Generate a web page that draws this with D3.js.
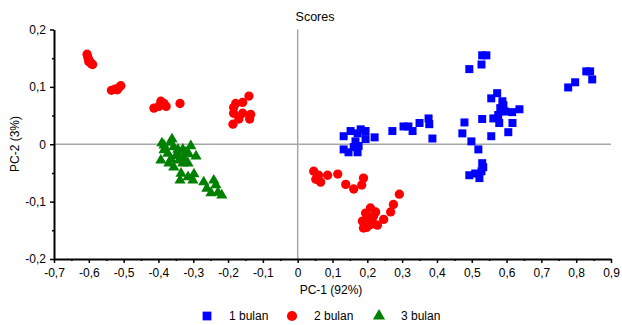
<!DOCTYPE html>
<html>
<head>
<meta charset="UTF-8">
<title>Scores</title>
<style>
  * { margin: 0; padding: 0; }
  body { background: #fff; font-family: "Liberation Sans", Arial, sans-serif; }
  svg text { font-family: "Liberation Sans", Arial, sans-serif; fill: #000; }
</style>
</head>
<body>
<svg id="chart" width="622" height="325"></svg>
<script src="https://cdn.jsdelivr.net/npm/d3@7"></script>
<script>
// PC-1, PC-2 scores per group
const bulan1 = [
  [0.132, 0.014], [0.152, 0.023], [0.172, 0.019], [0.181, 0.026], [0.195, 0.023],
  [0.166, 0.005], [0.195, 0.009], [0.221, 0.012], [0.132, -0.009], [0.146, -0.014],
  [0.172, -0.014], [0.161, -0.005], [0.175, -0.003], [0.272, 0.023], [0.304, 0.031],
  [0.318, 0.031], [0.330, 0.023], [0.350, 0.037], [0.376, 0.045], [0.378, 0.035],
  [0.387, 0.010], [0.530, 0.155], [0.542, 0.155], [0.528, 0.139], [0.493, 0.131],
  [0.777, 0.099], [0.797, 0.108], [0.829, 0.127], [0.840, 0.127], [0.846, 0.113],
  [0.573, 0.089], [0.556, 0.080], [0.588, 0.075], [0.591, 0.068], [0.582, 0.063],
  [0.596, 0.057], [0.616, 0.056], [0.637, 0.061], [0.576, 0.051], [0.562, 0.045],
  [0.579, 0.037], [0.617, 0.037], [0.605, 0.021], [0.530, 0.044], [0.479, 0.038],
  [0.473, 0.019], [0.556, 0.014], [0.499, 0.005], [0.519, -0.009], [0.530, -0.033],
  [0.533, -0.040], [0.528, -0.047], [0.510, -0.051], [0.493, -0.054], [0.522, -0.059]
];
const bulan2 = [
  [-0.605, 0.157], [-0.603, 0.152], [-0.601, 0.148], [-0.598, 0.145], [-0.595, 0.142],
  [-0.592, 0.140], [-0.589, 0.139], [-0.600, 0.144],
  [-0.535, 0.094], [-0.525, 0.096], [-0.518, 0.095], [-0.513, 0.099], [-0.508, 0.102],
  [-0.413, 0.063], [-0.399, 0.066], [-0.393, 0.075], [-0.384, 0.071], [-0.378, 0.066],
  [-0.338, 0.071],
  [-0.140, 0.084], [-0.158, 0.073], [-0.178, 0.071], [-0.184, 0.064], [-0.158, 0.054],
  [-0.184, 0.054], [-0.169, 0.044], [-0.135, 0.052], [-0.138, 0.044], [-0.186, 0.035],
  [0.046, -0.047], [0.060, -0.054], [0.052, -0.061], [0.066, -0.066], [0.086, -0.054],
  [0.115, -0.052], [0.138, -0.070], [0.161, -0.078], [0.184, -0.071], [0.189, -0.059],
  [0.292, -0.087], [0.275, -0.105], [0.267, -0.118], [0.247, -0.131], [0.229, -0.141],
  [0.209, -0.111], [0.195, -0.120], [0.204, -0.129], [0.215, -0.136], [0.198, -0.145],
  [0.224, -0.118], [0.218, -0.125], [0.186, -0.134], [0.189, -0.146], [0.210, -0.140]
];
const bulan3 = [
  [-0.361, 0.009], [-0.390, 0.002], [-0.307, -0.003], [-0.384, -0.010], [-0.356, -0.005],
  [-0.330, -0.009], [-0.373, -0.016], [-0.344, -0.016], [-0.313, -0.017], [-0.292, -0.021],
  [-0.393, -0.028], [-0.364, -0.026], [-0.327, -0.024], [-0.356, -0.040], [-0.330, -0.033],
  [-0.315, -0.033], [-0.335, -0.051], [-0.315, -0.057], [-0.298, -0.052], [-0.338, -0.063],
  [-0.301, -0.063], [-0.270, -0.066], [-0.241, -0.063], [-0.261, -0.077], [-0.235, -0.071],
  [-0.249, -0.085], [-0.229, -0.084], [-0.218, -0.089], [-0.384, -0.002], [-0.344, -0.009],
  [-0.370, -0.033], [-0.341, -0.028], [-0.321, -0.014], [-0.366, 0.003], [-0.350, -0.020]
];

const xTicks = [-0.7, -0.6, -0.5, -0.4, -0.3, -0.2, -0.1, 0, 0.1, 0.2, 0.3, 0.4, 0.5, 0.6, 0.7, 0.8, 0.9];
const yTicks = [-0.2, -0.1, 0, 0.1, 0.2];
const xMinor = d3.range(-0.65, 0.9, 0.1);
const yMinor = [-0.15, -0.05, 0.05, 0.15];

const groups = [
  { name: "1 bulan", data: bulan1, color: "#0000ff", shape: d3.symbolSquare, size: 64 },
  { name: "2 bulan", data: bulan2, color: "#ff0000", shape: d3.symbolCircle, size: 68 },
  { name: "3 bulan", data: bulan3, color: "#008000", shape: d3.symbolTriangle, size: 54 }
];

const svg = d3.select("#chart");
const x = d3.scaleLinear().domain([-0.7, 0.9]).range([54, 611]);
const y = d3.scaleLinear().domain([-0.2, 0.2]).range([259, 29.5]);
const fmt = d => d === 0 ? "0" : d3.format(".1f")(d).replace(".", ",").replace("−", "-");

// garis nol
svg.append("line")
  .attr("x1", x(0)).attr("x2", x(0)).attr("y1", y(0.2)).attr("y2", y(-0.2))
  .attr("stroke", "#a6a6a6").attr("stroke-width", 1.5);
svg.append("line")
  .attr("x1", x(-0.7)).attr("x2", x(0.9)).attr("y1", y(0)).attr("y2", y(0))
  .attr("stroke", "#a6a6a6").attr("stroke-width", 1.5);

// sumbu
const xAxis = svg.append("g").attr("transform", `translate(0,${y(-0.2)})`)
  .call(d3.axisBottom(x).tickValues(xTicks).tickFormat(fmt).tickSize(4).tickSizeOuter(0));
svg.append("g").attr("transform", `translate(0,${y(-0.2)})`)
  .call(d3.axisBottom(x).tickValues(xMinor).tickFormat("").tickSize(2).tickSizeOuter(0))
  .select(".domain").remove();
const yAxis = svg.append("g").attr("transform", `translate(${x(-0.7)},0)`)
  .call(d3.axisLeft(y).tickValues(yTicks).tickFormat(fmt).tickSize(4).tickSizeOuter(0));
svg.append("g").attr("transform", `translate(${x(-0.7)},0)`)
  .call(d3.axisLeft(y).tickValues(yMinor).tickFormat("").tickSize(2).tickSizeOuter(0))
  .select(".domain").remove();

svg.selectAll(".domain").attr("stroke", "#000").attr("stroke-width", 2);
svg.selectAll(".tick line").attr("stroke", "#000").attr("stroke-width", 1.5);
xAxis.selectAll("text").attr("font-size", 12).attr("dy", "0.9em");
yAxis.selectAll("text").attr("font-size", 12).attr("dx", "-1px");

// titik
groups.forEach(g => {
  svg.append("g").selectAll("path")
    .data(g.data)
    .join("path")
    .attr("transform", d => `translate(${x(d[0])},${y(d[1])})`)
    .attr("d", d3.symbol().type(g.shape).size(g.size))
    .attr("fill", g.color);
});

// judul & label
svg.append("text").attr("x", 315).attr("y", 21).attr("text-anchor", "middle")
  .attr("font-size", 12.5).text("Scores");
svg.append("text").attr("x", 331).attr("y", 294).attr("text-anchor", "middle")
  .attr("font-size", 12).text("PC-1 (92%)");
svg.append("text").attr("transform", "translate(19,144) rotate(-90)").attr("text-anchor", "middle")
  .attr("font-size", 12).text("PC-2 (3%)");

// legenda
const legendX = [207, 292, 379];
groups.forEach((g, i) => {
  svg.append("path")
    .attr("transform", `translate(${legendX[i]},316)`)
    .attr("d", d3.symbol().type(g.shape).size(g.size * 1.2))
    .attr("fill", g.color);
  svg.append("text").attr("x", legendX[i] + 22).attr("y", 320)
    .attr("font-size", 12).text(g.name);
});
</script>
</body>
</html>
